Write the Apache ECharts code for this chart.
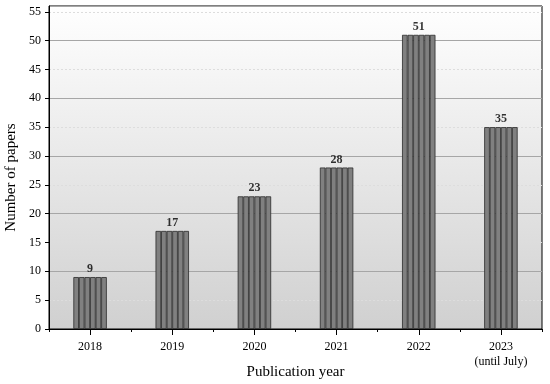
<!DOCTYPE html>
<html><head><meta charset="utf-8">
<script src="https://cdn.jsdelivr.net/npm/echarts@6/dist/echarts.min.js"></script>
<style>html,body{margin:0;padding:0;background:#fff}#c{width:550px;height:384px}</style>
</head><body><div id="c"></div>
<script>
const categories = ['2018', '2019', '2020', '2021', '2022', '2023\n(until July)'];
const papers = [9, 17, 23, 28, 51, 35];
const yMax = 56;
const FONT = '"Liberation Serif", "DejaVu Serif", serif';
const STRIPES = 6;

const chart = echarts.init(document.getElementById('c'), null, {renderer: 'canvas'});
const barSeries = [];
for (let i = 0; i < STRIPES; i++) {
  barSeries.push({
    type: 'bar', data: papers, xAxisIndex: 0, yAxisIndex: 0,
    barWidth: 5.57, barGap: '0%',
    itemStyle: {color: '#808080', borderColor: '#2a2a2a', borderWidth: 0.8},
    silent: true, z: 3
  });
}
barSeries.push({
  type: 'scatter', data: papers, symbolSize: 0, xAxisIndex: 0, yAxisIndex: 0, z: 4,
  label: {show: true, position: 'top', distance: 2, fontFamily: FONT, fontWeight: 'bold', fontSize: 12, color: '#000'}
});

chart.setOption({
  animation: false,
  grid: {
    left: 49, right: 8, top: 6, bottom: 55, show: true, containLabel: false, outerBoundsMode: 'none',
    borderColor: '#000', borderWidth: 1,
    backgroundColor: new echarts.graphic.LinearGradient(0, 0, 0, 1, [
      {offset: 0, color: '#ffffff'}, {offset: 1, color: '#d0d0d0'}
    ])
  },
  xAxis: [{
    type: 'category', data: categories,
    axisLine: {lineStyle: {color: '#000', width: 1}},
    axisTick: {show: true, length: 3, lineStyle: {color: '#000'}},
    axisLabel: {fontFamily: FONT, fontSize: 12, color: '#000', margin: 10, lineHeight: 15, interval: 0}
  }, {
    type: 'category', data: categories, position: 'bottom',
    name: 'Publication year', nameLocation: 'middle', nameGap: 36,
    nameTextStyle: {fontFamily: FONT, fontSize: 15, color: '#000'},
    axisLine: {show: false},
    axisTick: {show: true, alignWithLabel: true, length: 6, lineStyle: {color: '#000'}},
    axisLabel: {show: false}
  }],
  yAxis: [{
    type: 'value', min: 0, max: yMax, interval: 5, name: 'Number of papers', nameLocation: 'middle', nameGap: 30,
    nameTextStyle: {fontFamily: FONT, fontSize: 15, color: '#000', padding: [0, 20, 0, 0]},
    axisLine: {show: true, lineStyle: {color: '#000', width: 1}},
    axisTick: {show: true, length: 4, lineStyle: {color: '#000'}},
    axisLabel: {fontFamily: FONT, fontSize: 12, color: '#000', margin: 8, showMaxLabel: false,
      formatter: v => (v % 5 === 0 ? String(v) : '')},
    splitLine: {show: true, lineStyle: {color: '#dddddd', type: [2, 2], width: 1}}
  }, {
    type: 'value', min: 0, max: yMax, interval: 10, position: 'left',
    axisLine: {show: false}, axisTick: {show: false}, axisLabel: {show: false},
    splitLine: {show: true, lineStyle: {color: '#a6a6a6', width: 1}}
  }],
  series: barSeries
});
</script>
</body></html>
